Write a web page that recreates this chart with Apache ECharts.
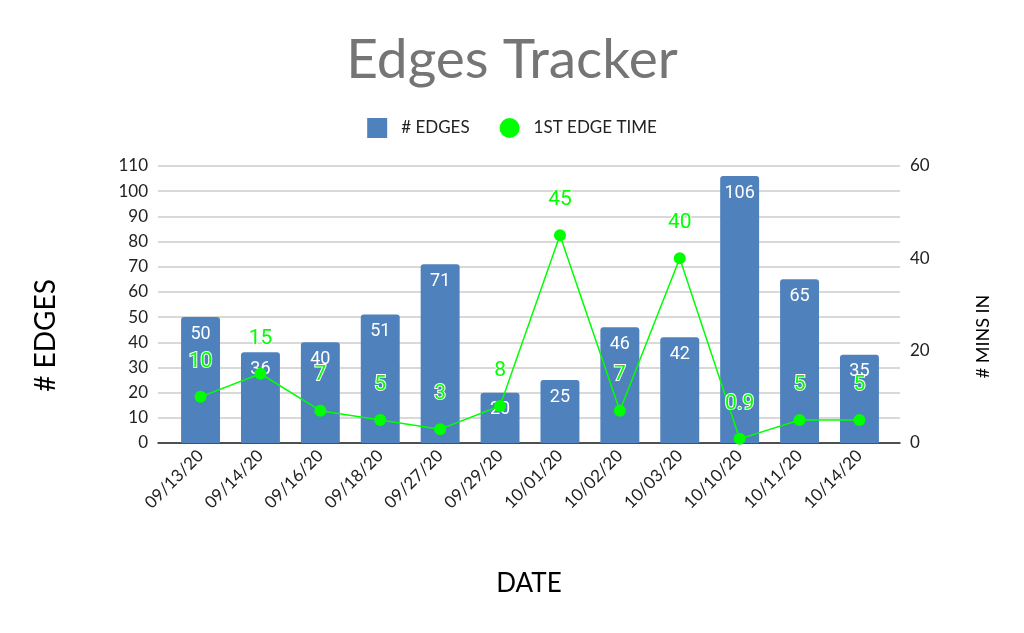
<!DOCTYPE html>
<html><head><meta charset="utf-8">
<script src="https://cdn.jsdelivr.net/npm/echarts@6/dist/echarts.min.js"></script>
<style>html,body{margin:0;padding:0;background:#fff}#c{width:1024px;height:633px}</style>
</head><body><div id="c"></div>
<script>
const categories = ['09/13/20','09/14/20','09/16/20','09/18/20','09/27/20','09/29/20','10/01/20','10/02/20','10/03/20','10/10/20','10/11/20','10/14/20'];
const edges = [50,36,40,51,71,20,25,46,42,106,65,35];
const firstEdgeTime = [10,15,7,5,3,8,45,7,40,0.9,5,5];
const leftTicks = {min:0, max:110, interval:10};
const rightTicks = {min:0, max:60, interval:20};

const chart = echarts.init(document.getElementById('c'));
const F = 'Lato, "Open Sans", sans-serif';
chart.setOption({
  animation:false,
  title:{text:'Edges Tracker', left:'center', top:28,
    textStyle:{fontFamily:F, fontSize:55, fontWeight:'normal', color:'#757575'}},
  legend:{top:113, left:'center', itemWidth:20, itemHeight:20, itemGap:30,
    textStyle:{fontFamily:F, fontSize:17, color:'#222', padding:[0,0,0,9]},
    data:[{name:'# EDGES', icon:'rect'},{name:'1ST EDGE TIME', icon:'circle'}]},
  grid:[
    {left:158, right:124, top:166, bottom:190},
    {left:170.6, right:134.6, top:166, bottom:190}
  ],
  xAxis:[
    {type:'category', gridIndex:0, data:categories,
     axisLine:{lineStyle:{color:'#222', width:1.5}}, axisTick:{show:false},
     axisLabel:{show:false},
     name:'DATE', nameLocation:'middle', nameGap:128,
     nameTextStyle:{fontFamily:F, fontSize:26, color:'#000'}},
    {type:'category', gridIndex:1, data:categories,
     axisLine:{show:false}, axisTick:{show:false},
     axisLabel:{rotate:45, fontFamily:F, fontSize:17, color:'#222', margin:10, interval:0}}
  ],
  yAxis:[
    {type:'value', gridIndex:0, min:leftTicks.min, max:leftTicks.max, interval:leftTicks.interval,
     axisLine:{show:false}, axisTick:{show:false},
     axisLabel:{fontFamily:F, fontSize:17, color:'#222', margin:10},
     splitLine:{lineStyle:{color:'#cccccc', width:1.5}},
     name:'# EDGES', nameLocation:'middle', nameGap:98, nameRotate:90,
     nameTextStyle:{fontFamily:F, fontSize:28, color:'#000', padding:[0,62,0,0]}},
    {type:'value', gridIndex:0, position:'right', min:rightTicks.min, max:rightTicks.max, interval:rightTicks.interval,
     axisLine:{show:false}, axisTick:{show:false}, splitLine:{show:false},
     axisLabel:{fontFamily:F, fontSize:17, color:'#222', margin:10},
     name:'# MINS IN', nameLocation:'middle', nameGap:74, nameRotate:90,
     nameTextStyle:{fontFamily:F, fontSize:18, color:'#000', padding:[0,64,0,0]}},
    {type:'value', gridIndex:1, show:false, min:leftTicks.min, max:leftTicks.max, splitLine:{show:false}},
    {type:'value', gridIndex:1, show:false, min:rightTicks.min, max:rightTicks.max, splitLine:{show:false}}
  ],
  series:[
    {name:'# EDGES', type:'bar', data:edges, barWidth:'65%', xAxisIndex:1, yAxisIndex:2,
     itemStyle:{color:'#4f81bd', borderRadius:[3,3,0,0]},
     label:{show:true, position:'insideTop', distance:8, color:'#fff',
       fontFamily:'Roboto, sans-serif', fontSize:18}},
    {name:'1ST EDGE TIME', type:'line', data:firstEdgeTime, xAxisIndex:1, yAxisIndex:3,
     symbol:'circle', symbolSize:12, z:5,
     lineStyle:{color:'#00ff00', width:1.5}, itemStyle:{color:'#00ff00'},
     label:{show:true, position:'top', distance:19, color:'#00ff00',
       fontFamily:'Roboto, sans-serif', fontSize:21,
       textBorderColor:'#fff', textBorderWidth:2}}
  ]
});
</script></body></html>
